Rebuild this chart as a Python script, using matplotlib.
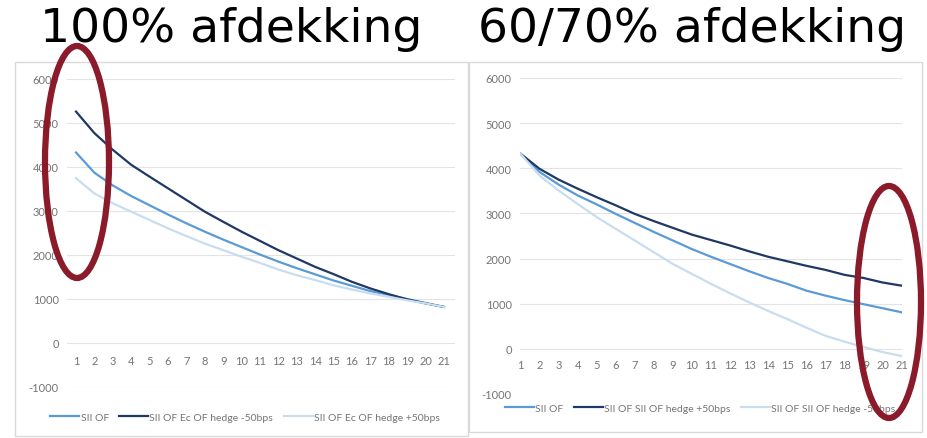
import numpy as np
import matplotlib
matplotlib.use("Agg")
import matplotlib.pyplot as plt
from matplotlib.patches import Ellipse, Rectangle

plt.rcParams["axes.unicode_minus"] = False

# ---------------------------------------------
# data: own funds projection per year
years = list(range(1, 22))

# 100% hedge
left_sii_of = [4330, 3870, 3580, 3340, 3130, 2920, 2720, 2530, 2350, 2180, 2010,
               1850, 1700, 1560, 1420, 1300, 1180, 1090, 1000, 910, 820]
left_min50 = [5260, 4770, 4390, 4050, 3780, 3515, 3250, 2985, 2755, 2530, 2320,
              2110, 1920, 1730, 1565, 1390, 1240, 1110, 990, 900, 820]
left_plus50 = [3745, 3400, 3175, 2985, 2795, 2605, 2430, 2260, 2110, 1960, 1820,
               1670, 1540, 1430, 1310, 1215, 1125, 1050, 970, 900, 820]
left_labels = ["SII OF", "SII OF Ec OF hedge -50bps", "SII OF Ec OF hedge +50bps"]

# 60/70% hedge
right_sii_of = [4326, 3920, 3640, 3400, 3200, 2990, 2790, 2590, 2400, 2210, 2040,
                1880, 1720, 1570, 1440, 1290, 1180, 1080, 990, 900, 810]
right_plus50 = [4326, 3990, 3750, 3550, 3360, 3180, 2990, 2830, 2680, 2530, 2410,
                2290, 2160, 2040, 1940, 1840, 1750, 1640, 1570, 1470, 1400]
right_min50 = [4326, 3840, 3510, 3210, 2920, 2660, 2400, 2140, 1880, 1660, 1440,
               1230, 1030, 840, 660, 470, 290, 160, 40, -70, -160]
right_labels = ["SII OF", "SII OF SII OF hedge +50bps", "SII OF SII OF hedge -50bps"]

titles = ["100% afdekking", "60/70% afdekking"]
yticks = [-1000, 0, 1000, 2000, 3000, 4000, 5000, 6000]

c_mid = "#5B9BD5"
c_dark = "#1F3864"
c_light = "#C9DDF0"
grey_txt = "#757575"
red = "#8B1A2B"

W, H = 927, 439
fig = plt.figure(figsize=(W / 100, H / 100), dpi=100)


def fx(px):
    return px / W


def fy(py):
    return 1 - py / H


def setup(ax, xlim, pad):
    ax.set_ylim(-1000, 6000)
    ax.set_xlim(*xlim)
    ax.set_yticks(yticks)
    ax.set_xticks(years)
    ax.grid(axis="y", color="#E3E3E3", lw=0.8)
    ax.set_axisbelow(True)
    for s in ["top", "right", "left"]:
        ax.spines[s].set_visible(False)
    ax.spines["bottom"].set_position(("data", 0))
    ax.spines["bottom"].set_visible(False)
    ax.tick_params(axis="both", length=0, labelsize=8, labelcolor=grey_txt)
    ax.tick_params(axis="x", pad=pad)
    ax.tick_params(axis="y", pad=6)
    for lab in ax.get_xticklabels() + ax.get_yticklabels():
        lab.set_family("Lato")


# panel frames
fig.patches.append(Rectangle((fx(15), fy(437)), fx(453), fy(63) - fy(437),
                             transform=fig.transFigure, fill=False,
                             ec="#D9D9D9", lw=1))
fig.patches.append(Rectangle((fx(469), fy(433)), fx(453), fy(63) - fy(433),
                             transform=fig.transFigure, fill=False,
                             ec="#D9D9D9", lw=1))

legend_kw = dict(loc="center", bbox_transform=fig.transFigure, ncol=3,
                 frameon=False, prop={"family": "Lato", "size": 7.5},
                 labelcolor=grey_txt, handlelength=2.8, handletextpad=0.1,
                 columnspacing=1.0)

# left chart
ax1 = fig.add_axes([fx(67), fy(388), fx(455 - 67), fy(80) - fy(388)])
setup(ax1, (0.51, 21.6), 9)
ax1.plot(years, left_sii_of, color=c_mid, lw=1.6, label=left_labels[0])
ax1.plot(years, left_min50, color=c_dark, lw=1.6, label=left_labels[1])
ax1.plot(years, left_plus50, color=c_light, lw=1.6, label=left_labels[2])
ax1.legend(bbox_to_anchor=(fx(245), fy(418)), **legend_kw)

# right chart
ax2 = fig.add_axes([fx(520), fy(395), fx(902 - 520), fy(79) - fy(395)])
setup(ax2, (0.98, 21.02), 7)
ax2.plot(years, right_sii_of, color=c_mid, lw=1.6, label=right_labels[0])
ax2.plot(years, right_plus50, color=c_dark, lw=1.6, label=right_labels[1])
ax2.plot(years, right_min50, color=c_light, lw=1.6, label=right_labels[2])
ax2.legend(bbox_to_anchor=(fx(700), fy(409)), **legend_kw)

# titles
fig.text(fx(231), fy(42), titles[0], ha="center", va="baseline",
         fontsize=34, family="DejaVu Sans", color="black")
fig.text(fx(692), fy(42), titles[1], ha="center", va="baseline",
         fontsize=34, family="DejaVu Sans", color="black")

# highlight ellipses
for cx, cy in [(77, 163), (889, 303)]:
    fig.patches.append(Ellipse((fx(cx), fy(cy)), fx(64), fy(0) - fy(232),
                               transform=fig.transFigure, fill=False,
                               ec=red, lw=4.5, zorder=10))

fig.savefig("out.png", dpi=100)
